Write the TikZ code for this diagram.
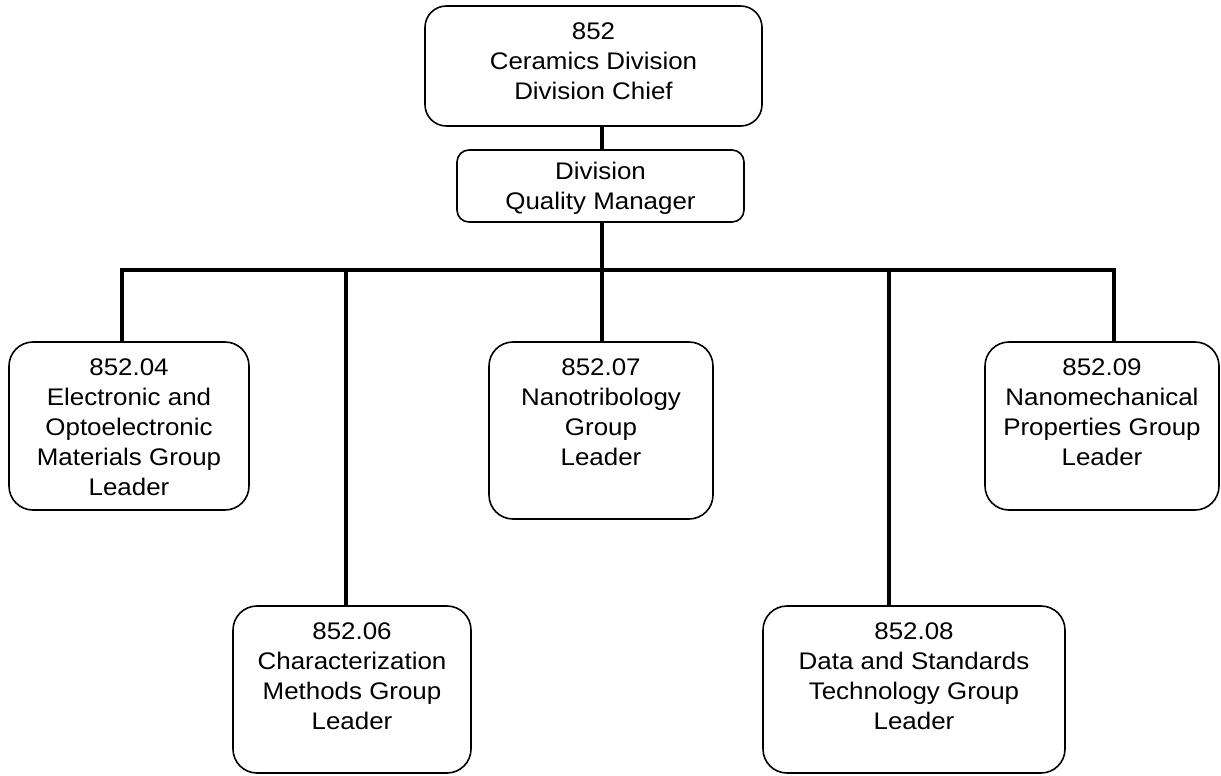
\documentclass[tikz,border=0pt]{standalone}
\usepackage{fontspec}
\setmainfont{Liberation Sans}[FakeStretch=1.08]
\begin{document}
\begin{tikzpicture}[x=0.75pt,y=-0.75pt,
  box/.style={draw=black,line width=1.2pt,fill=white,inner sep=0pt},
  txt/.style={anchor=north,inner sep=0pt,align=center,font=\fontsize{18}{22.5}\selectfont},
  conn/.style={draw=black,line width=2.4pt,line join=miter}]
\useasboundingbox (0,0) rectangle (1221,775);
% boxes
\node[box,rounded corners=16pt,minimum width=337*0.75pt,minimum height=120*0.75pt] (top) at (593.5,66) {};
\node[box,rounded corners=9pt,minimum width=287*0.75pt,minimum height=72*0.75pt] (qm) at (600.5,186) {};
\node[box,rounded corners=18pt,minimum width=240*0.75pt,minimum height=168*0.75pt] (b04) at (129,426) {};
\node[box,rounded corners=18pt,minimum width=238*0.75pt,minimum height=167*0.75pt] (b06) at (352,689.5) {};
\node[box,rounded corners=18pt,minimum width=224*0.75pt,minimum height=177*0.75pt] (b07) at (601,430.5) {};
\node[box,rounded corners=18pt,minimum width=302*0.75pt,minimum height=167*0.75pt] (b08) at (914,689.5) {};
\node[box,rounded corners=18pt,minimum width=234*0.75pt,minimum height=168*0.75pt] (b09) at (1102,426) {};
% texts
\node[txt] (ttop) at ([yshift=-17*0.75pt]top.north) {852\\Ceramics Division\\Division Chief};
\node[txt] (tqm) at ([yshift=-13*0.75pt]qm.north) {Division\\Quality Manager};
\node[txt] (t04) at ([yshift=-17*0.75pt]b04.north) {852.04\\Electronic and\\Optoelectronic\\Materials Group\\Leader};
\node[txt] (t06) at ([yshift=-17*0.75pt]b06.north) {852.06\\Characterization\\Methods Group\\Leader};
\node[txt] (t07) at ([yshift=-17*0.75pt]b07.north) {852.07\\Nanotribology\\Group\\Leader};
\node[txt] (t08) at ([yshift=-17*0.75pt]b08.north) {852.08\\Data and Standards\\Technology Group\\Leader};
\node[txt] (t09) at ([yshift=-17*0.75pt]b09.north) {852.09\\Nanomechanical\\Properties Group\\Leader};
% bus coordinates
\coordinate (bus) at (602,270);
\coordinate (j04) at (122,270);
\coordinate (j06) at (346,270);
\coordinate (j07) at (602,270);
\coordinate (j08) at (889,270);
\coordinate (j09) at (1114,270);
% connectors
\draw[conn] (top.south -| bus) -- (qm.north -| bus);
\draw[conn] (qm.south -| bus) -- (bus);
\draw[conn] (j04 |- b04.north) -- (j04) -- (j09) -- (j09 |- b09.north);
\draw[conn] (j06) -- (j06 |- b06.north);
\draw[conn] (j07) -- (j07 |- b07.north);
\draw[conn] (j08) -- (j08 |- b08.north);
\end{tikzpicture}
\end{document}
